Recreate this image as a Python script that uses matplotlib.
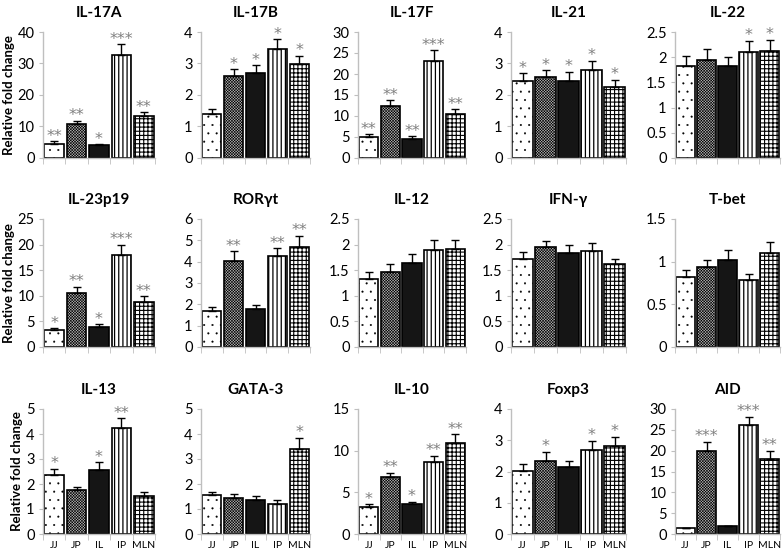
import matplotlib
matplotlib.use("Agg")
import matplotlib.pyplot as plt
import numpy as np

plt.rcParams['font.family'] = ['Lato', 'DejaVu Sans']

groups = ["JJ", "JP", "IL", "IP", "MLN"]

titles = ["IL-17A", "IL-17B", "IL-17F", "IL-21", "IL-22",
          "IL-23p19", "RORγt", "IL-12", "IFN-γ", "T-bet",
          "IL-13", "GATA-3", "IL-10", "Foxp3", "AID"]

means = [
    [4.5, 10.8, 4.0, 32.8, 13.3],
    [1.41, 2.59, 2.70, 3.46, 2.98],
    [5.0, 12.4, 4.6, 23.2, 10.4],
    [2.44, 2.56, 2.46, 2.80, 2.25],
    [1.83, 1.95, 1.83, 2.10, 2.13],
    [3.4, 10.5, 3.9, 18.0, 8.7],
    [1.70, 4.05, 1.78, 4.28, 4.69],
    [1.33, 1.46, 1.64, 1.90, 1.91],
    [1.72, 1.95, 1.83, 1.88, 1.62],
    [0.82, 0.94, 1.02, 0.78, 1.10],
    [2.37, 1.77, 2.57, 4.23, 1.54],
    [1.57, 1.46, 1.37, 1.20, 3.40],
    [3.30, 6.82, 3.59, 8.60, 10.97],
    [2.03, 2.35, 2.14, 2.70, 2.83],
    [1.36, 19.95, 1.84, 26.2, 18.0],
]

errs = [
    [0.8, 1.1, 0.5, 3.4, 1.2],
    [0.14, 0.22, 0.25, 0.32, 0.27],
    [0.6, 1.4, 0.6, 2.4, 1.2],
    [0.26, 0.24, 0.28, 0.29, 0.24],
    [0.20, 0.22, 0.18, 0.23, 0.22],
    [0.3, 1.3, 0.5, 2.0, 1.3],
    [0.16, 0.43, 0.17, 0.36, 0.53],
    [0.13, 0.16, 0.18, 0.19, 0.18],
    [0.13, 0.12, 0.17, 0.15, 0.10],
    [0.08, 0.08, 0.12, 0.07, 0.13],
    [0.25, 0.13, 0.30, 0.40, 0.14],
    [0.13, 0.15, 0.16, 0.17, 0.46],
    [0.33, 0.56, 0.31, 0.80, 1.00],
    [0.21, 0.29, 0.21, 0.29, 0.29],
    [0.08, 2.25, 0.08, 2.0, 2.0],
]

stars = [
    ["**", "**", "*", "***", "**"],
    ["", "*", "*", "*", "*"],
    ["**", "**", "**", "***", "**"],
    ["*", "*", "*", "*", "*"],
    ["", "", "", "*", "*"],
    ["*", "**", "*", "***", "**"],
    ["", "**", "", "**", "**"],
    ["", "", "", "", ""],
    ["", "", "", "", ""],
    ["", "", "", "", ""],
    ["*", "", "*", "**", ""],
    ["", "", "", "", "*"],
    ["*", "**", "*", "**", "**"],
    ["", "*", "", "*", "*"],
    ["", "***", "", "***", "**"],
]

ymax = [40, 4, 30, 4, 2.5, 25, 6, 2.5, 2.5, 1.5, 5, 5, 15, 4, 30]
ystep = [10, 1, 5, 1, 0.5, 5, 1, 0.5, 0.5, 0.5, 1, 1, 5, 1, 5]

# bar styles per group
faces = ["white", "#b8b8b8", "#151515", "white", "white"]
hatches = ["..", "xxxxxxxxxxxx", "", "||||", "++++"]
hatch_lw = [0.25, 0.4, 0.5, 0.9, 0.8]

W, H = 784, 551
fig = plt.figure(figsize=(W / 100, H / 100), dpi=100)

col_px = [(43, 155), (201, 310), (358, 466), (511, 626), (675, 780)]
row_px = [(32, 158), (219, 347), (409, 534)]

gray = "#bfbfbf"
x = np.arange(len(groups))

for i, title in enumerate(titles):
    r, c = divmod(i, 5)
    l, rr = col_px[c]
    t, b = row_px[r]
    ax = fig.add_axes([l / W, 1 - b / H, (rr - l) / W, (b - t) / H])
    m = means[i]
    e = errs[i]
    for j in range(len(groups)):
        with plt.rc_context({'hatch.linewidth': hatch_lw[j]}):
            bars = ax.bar(x[j], m[j], width=0.88, color=faces[j], edgecolor="black",
                          linewidth=1.2, hatch=hatches[j] if hatches[j] else None, zorder=2)
            for p in bars:
                if hasattr(p, "set_hatch_linewidth"):
                    p.set_hatch_linewidth(hatch_lw[j])
    ax.errorbar(x, m, yerr=[np.zeros(len(m)), e], fmt="none", ecolor="black",
                elinewidth=1.0, capsize=3, capthick=1.0, zorder=3)
    for j in range(len(groups)):
        if stars[i][j]:
            ax.annotate(stars[i][j], (x[j], m[j] + e[j]), xytext=(0, -2),
                        textcoords="offset points", ha="center", va="bottom",
                        fontsize=11.5, color="#808080", family="DejaVu Sans")
    ax.set_xlim(-0.5, 4.5)
    ax.set_ylim(0, ymax[i])
    ticks = np.arange(0, ymax[i] + ystep[i] / 2, ystep[i])
    ax.set_yticks(ticks)
    ax.set_yticklabels(["{:g}".format(v) for v in ticks])
    ax.set_xticks(x)
    ax.set_xticks(np.arange(-0.5, 5, 1), minor=True)
    if r == 2:
        ax.set_xticklabels(groups, fontsize=7.5)
    else:
        ax.set_xticklabels([])
    ax.tick_params(axis="x", which="major", length=0, pad=5)
    ax.tick_params(axis="x", which="minor", length=4, color=gray, direction="out")
    ax.tick_params(axis="y", length=3, color=gray, labelsize=10.5, pad=3)
    for s in ["top", "right"]:
        ax.spines[s].set_visible(False)
    for s in ["left", "bottom"]:
        ax.spines[s].set_color(gray)
        ax.spines[s].set_linewidth(1.0)
    ax.set_title(title, fontsize=11, fontweight="bold", pad=11)
    if c == 0:
        ax.set_ylabel("Relative fold change", fontsize=9.5, fontweight="bold", labelpad=2)

fig.savefig("out.png", dpi=100)
